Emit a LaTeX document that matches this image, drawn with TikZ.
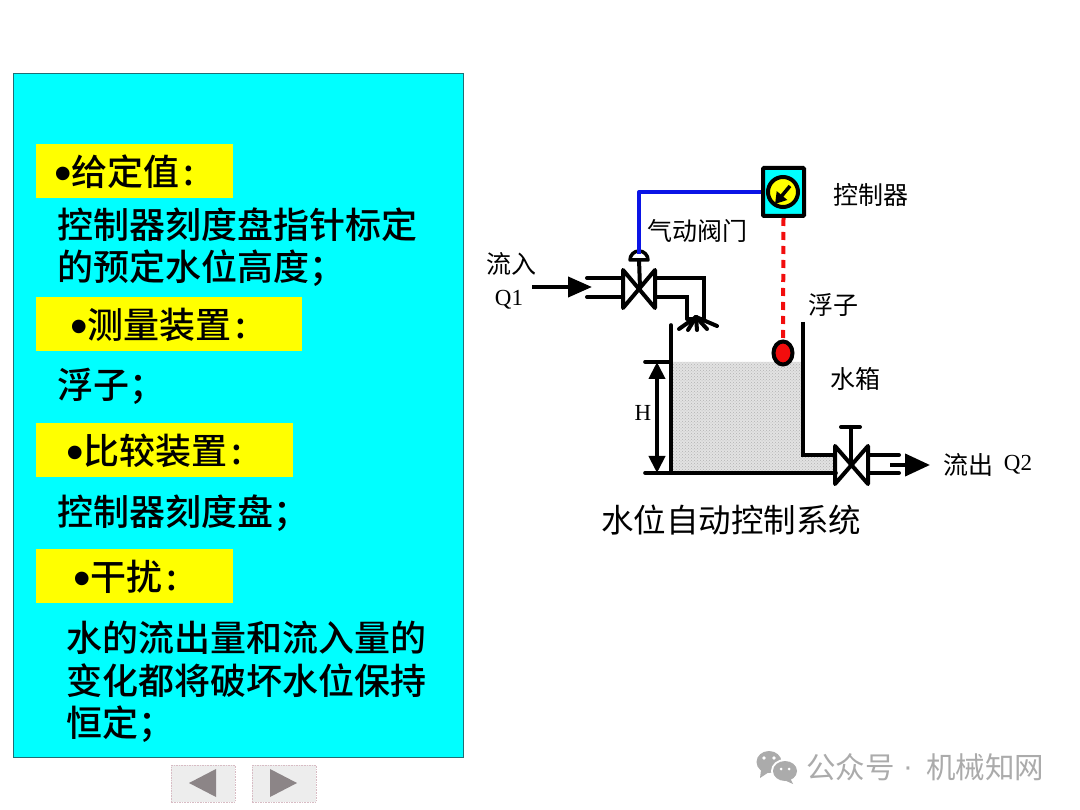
\documentclass[tikz,border=0pt]{standalone}
\usepackage{fontspec}
\setmainfont{Noto Sans CJK SC}
\newfontfamily\medfont{Noto Sans CJK SC Medium}
\newfontfamily\latinserif{Liberation Serif}
\newfontfamily\bulletfont{Liberation Sans}
\usetikzlibrary{arrows.meta,patterns,shapes.geometric,calc}
\definecolor{panelcyan}{HTML}{00FFFF}
\definecolor{paneledge}{HTML}{1F6F75}
\definecolor{headyellow}{HTML}{FFFF00}
\definecolor{waterfill}{HTML}{E2E2E2}
\definecolor{pipeblue}{HTML}{0A14E6}
\definecolor{floatred}{HTML}{F20D0D}
\definecolor{btnfill}{HTML}{EDEDED}
\definecolor{btnedge}{HTML}{D8BCC4}
\definecolor{btnarrow}{HTML}{8C8587}
\definecolor{markgray}{HTML}{ABABAB}
\newcommand{\bul}{\smash{\raisebox{-5pt}{\fontsize{50}{50}\selectfont\bulletfont •}}}
\tikzset{
  headbox/.style={fill=headyellow,draw=none,minimum height=54pt,inner sep=0pt,anchor=north west},
  headtext/.style={inner sep=0pt,anchor=west,font=\fontsize{36}{36}\selectfont\medfont,text=black},
  bodytext/.style={inner sep=0pt,anchor=west,align=left,font=\fontsize{36}{42.5}\selectfont\medfont,text=black},
  lab/.style={inner sep=0pt,font=\fontsize{25}{28}\selectfont,text=black},
  serlab/.style={inner sep=0pt,font=\fontsize{23}{28}\selectfont\latinserif,text=black},
  pipe/.style={line width=4pt,line cap=round,line join=round,black},
  thinwall/.style={line width=3.6pt,black},
  navbtn/.style={fill=btnfill,draw=btnedge,line width=1.6pt,densely dotted,minimum width=64pt,minimum height=37pt,inner sep=0pt,anchor=north west},
  navtri/.style={fill=btnarrow,draw=none},
  markt/.style={inner sep=0pt,anchor=west,text=markgray,font=\fontsize{29.5}{30}\selectfont},
  arrowline/.style={line width=4pt}
}
\begin{document}
\begin{tikzpicture}[x=1pt,y=-1pt]
\useasboundingbox (0,0) rectangle (1080,810);
\fill[white] (0,0) rectangle (1080,810);

% ---------- left panel
\node[draw=paneledge,line width=1.2pt,fill=panelcyan,minimum width=450pt,minimum height=684pt,inner sep=0pt,anchor=north west] (panel) at (13,73) {};
\node[headbox,minimum width=197pt] (h1) at (36,144) {};
\node[headbox,minimum width=266pt] (h2) at (36,297) {};
\node[headbox,minimum width=257pt] (h3) at (36,423) {};
\node[headbox,minimum width=197pt] (h4) at (36,549) {};
\node[headtext] (t1) at (54,172) {\bul 给定值\hspace{4pt}:};
\node[headtext] (t2) at (70,325) {\bul 测量装置\hspace{4pt}:};
\node[headtext] (t3) at (66,451) {\bul 比较装置\hspace{4pt}:};
\node[headtext] (t4) at (73,577) {\bul 干扰\hspace{4pt}:};
\node[bodytext] (b1) at (57,247) {控制器刻度盘指针标定\\的预定水位高度；};
\node[bodytext] (b2) at (57,386) {浮子；};
\node[bodytext] (b3) at (57,513) {控制器刻度盘；};
\node[bodytext] (b4) at (66,682) {水的流出量和流入量的\\变化都将破坏水位保持\\恒定；};

% ---------- nav buttons
\node[navbtn] (prev) at (170.5,764.5) {};
\node[navbtn] (next) at (251.5,764.5) {};
\fill[navtri] (189,783) -- (216,769) -- (216,797) -- cycle;
\fill[navtri] (297,783) -- (270,769) -- (270,797) -- cycle;

% ---------- water
\fill[waterfill] (671,362) -- (803,362) -- (803,455) -- (836,455) -- (836,473) -- (671,473) -- cycle;
\fill[pattern=crosshatch dots,pattern color=black!30] (671,362) -- (803,362) -- (803,455) -- (836,455) -- (836,473) -- (671,473) -- cycle;

% ---------- tank
\coordinate (tankTL) at (671,325);
\coordinate (tankBL) at (671,473);
\coordinate (tankTR) at (803,322);
\coordinate (tankBR) at (803,455);
\coordinate (outV1) at (836,455);
\coordinate (outV2) at (836,473);
\coordinate (tickT) at (645,362);
\coordinate (tickTe) at (671,362);
\coordinate (tickB) at (645,473);
\coordinate (hT) at (657,362);
\coordinate (hB) at (657,473);
\draw[thinwall,line cap=round] (tankTL) -- (tankBL);
\draw[thinwall,line cap=round] (tickT) -- (tickTe);
\draw[thinwall,line cap=round] (tickB) -- (outV2);
\draw[thinwall,line join=miter] (tankTR) -- (tankBR) -- (outV1);
\draw[line width=4pt,{Triangle[length=17pt,width=16pt]}-{Triangle[length=17pt,width=16pt]}] (hT) -- (hB);

% ---------- inlet valve
\coordinate (vc) at (640,288);
\draw[pipe] (623,270) -- (655,308) -- (655,270) -- (623,308) -- cycle;
\draw[pipe] (587,278) -- (623,278);
\draw[pipe] (587,297) -- (623,297);
\draw[pipe,line join=miter] (655,278) -- (704,278) -- (704,318);
\draw[pipe,line join=miter] (655,297) -- (687,297) -- (687,318);
\coordinate (spray) at (696,317);
\foreach \ex/\ey in {679/329,688/330,697/330,707/329,717/326}
  \draw[pipe] (spray) -- (\ex,\ey);
\draw[pipe] (687,319) -- (704,319);
\coordinate (cap) at (639,259);
\coordinate (capTop) at (639,254);
\draw[pipe] (cap) -- (vc);
\draw[line width=3.5pt,black,fill=white,line join=round] (630,260) arc[start angle=180,end angle=360,radius=9] -- cycle;
\coordinate (inFrom) at (532,287);
\coordinate (inTo) at (592,287);
\draw[arrowline,-{Triangle[length=24pt,width=20pt]}] (inFrom) -- (inTo);

% ---------- outlet valve
\coordinate (ovc) at (851,465);
\draw[pipe] (835,446) -- (868,484) -- (868,446) -- (835,484) -- cycle;
\draw[pipe] (ovc) -- (851,427);
\draw[pipe] (841,427) -- (860,427);
\draw[pipe] (868,455) -- (899,455);
\draw[pipe] (868,473) -- (899,473);
\coordinate (outFrom) at (890,465);
\coordinate (outTo) at (930,465);
\draw[arrowline,-{Triangle[length=25pt,width=22pt]}] (outFrom) -- (outTo);

% ---------- controller
\node[draw=black,line width=4pt,fill=panelcyan,rounded corners=1pt,minimum width=41pt,minimum height=48pt,inner sep=0pt] (ctrl) at (783.5,192) {};
\node[circle,draw=black,line width=4pt,fill=headyellow,minimum size=30pt,inner sep=0pt] (dial) at (783,192) {};
\draw[line width=3.5pt,black,-{Triangle[length=11pt,width=13pt]}] (790,186) -- (775,204);

% ---------- float and signal lines
\node[ellipse,draw=black,line width=4pt,fill=floatred,minimum width=19pt,minimum height=23pt,inner sep=0pt] (float) at (783,353) {};
\draw[floatred,line width=4pt,dash pattern=on 8pt off 6pt] (ctrl.south) -- (float.north);
\coordinate (corner) at (639,192);
\draw[pipeblue,line width=4pt,line join=round] (ctrl.west) -- (corner) -- (capTop);

% ---------- labels
\node[lab] (lflow) at (511,264) {流入};
\node[serlab] (lq1) at (509,300) {Q1};
\node[lab] (lvalve) at (697,231) {气动阀门};
\node[lab] (lctrl) at (871,195) {控制器};
\node[lab] (lfloat) at (833,305) {浮子};
\node[lab] (ltank) at (855,379) {水箱};
\node[serlab] (lh) at (643,413) {H};
\node[lab] (lout) at (968,465) {流出};
\node[serlab] (lq2) at (1018,465) {Q2};
\node[lab,font=\fontsize{32.5}{36}\selectfont] (title) at (731,520) {水位自动控制系统};

% ---------- watermark
\fill[markgray] (769,762) ellipse[x radius=12.5,y radius=11];
\fill[markgray] (761,770) -- (760,778) -- (769,772) -- cycle;
\fill[white] (785,771) ellipse[x radius=14,y radius=12];
\fill[markgray] (785,771) ellipse[x radius=12,y radius=10];
\fill[markgray] (790,778) -- (793,784) -- (784,780) -- cycle;
\fill[white] (764,758) circle[radius=1.8] (774,758) circle[radius=1.8] (781,769) circle[radius=1.5] (789,769) circle[radius=1.5];
\node[markt] (mk1) at (806,767) {公众号};
\node[inner sep=0pt,text=markgray,font=\fontsize{29.5}{30}\selectfont\bulletfont] (mk2) at (908,772) {·};
\node[markt] (mk3) at (926,767) {机械知网};
\end{tikzpicture}
\end{document}
